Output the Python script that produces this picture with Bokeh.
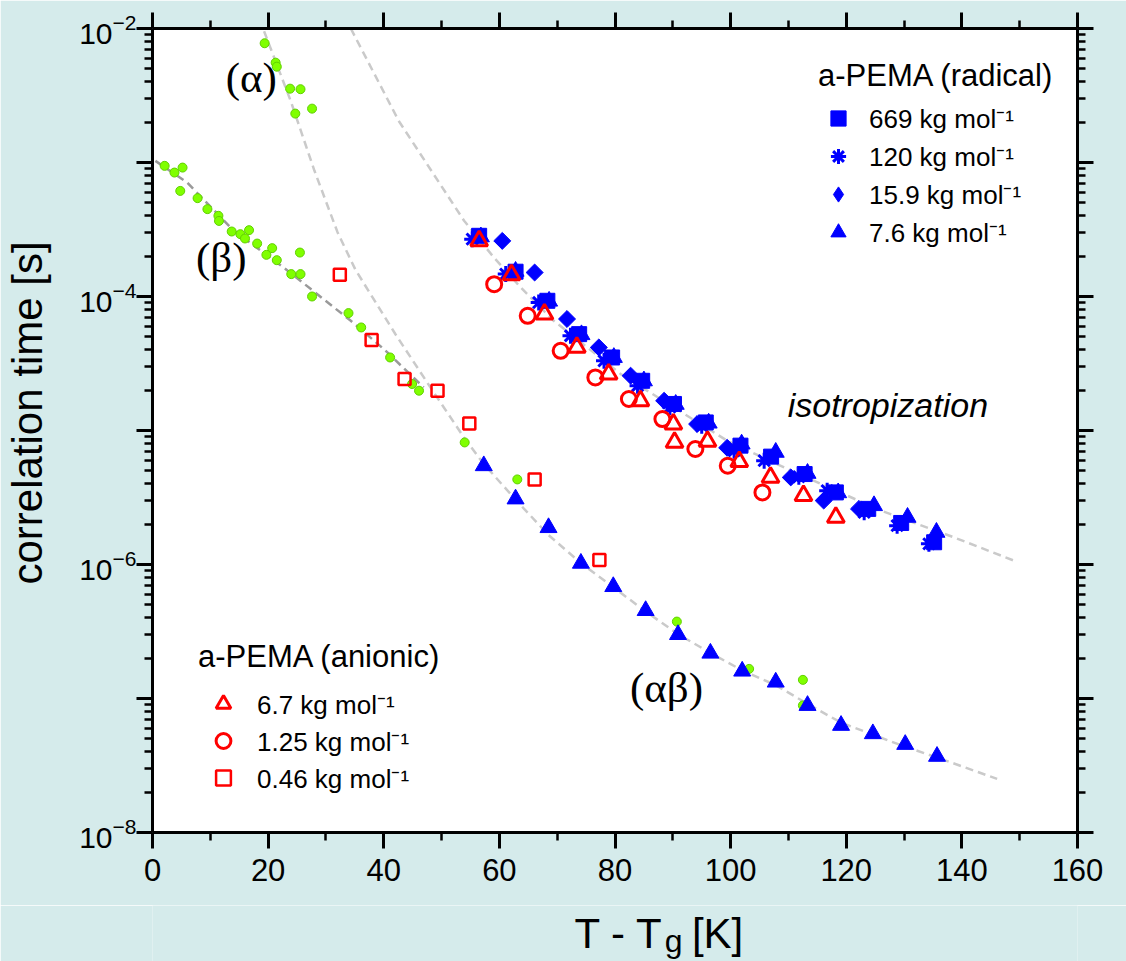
import math
from bokeh.plotting import figure
from bokeh.layouts import column
from bokeh.core.properties import value
from bokeh.models import (Range1d, FixedTicker, LinearAxis, LogAxis, Label, LogTickFormatter,
                          Legend, LegendItem, CustomJSTickFormatter)
from bokeh.embed import file_html
from bokeh.resources import INLINE

# ---------------- data ----------------
# x : T - Tg [K]; values given as log10(correlation time / s)
# a-PEMA (radical)
x_669 = [56.5, 62.8, 68.3, 73.8, 79.5, 84.7, 90.2, 95.7, 101.7, 107.0, 112.8, 118.2, 123.8, 129.5, 135.2]
lt_669 = [-3.547, -3.815, -4.032, -4.281, -4.455, -4.629, -4.802, -4.940, -5.113, -5.195, -5.325, -5.462, -5.585, -5.690, -5.834]

x_120 = [55.3, 61.1, 66.8, 72.3, 78.1, 83.9, 89.5, 95.0, 100.6, 105.8, 111.8, 116.7, 123.1, 128.8, 134.3]
lt_120 = [-3.572, -3.833, -4.045, -4.293, -4.480, -4.666, -4.825, -4.965, -5.151, -5.225, -5.345, -5.449, -5.611, -5.710, -5.846]

x_159 = [60.5, 66.1, 71.7, 77.2, 82.7, 88.5, 94.2, 99.4, 110.4, 116.1, 122.2]
lt_159 = [-3.585, -3.821, -4.168, -4.380, -4.591, -4.778, -4.952, -5.129, -5.350, -5.523, -5.585]

x_76_iso = [56.8, 62.8, 68.6, 74.2, 79.8, 85.0, 90.5, 96.2, 101.9, 107.8, 113.3, 118.6, 124.8, 130.6, 135.6]
lt_76_iso = [-3.555, -3.812, -4.035, -4.285, -4.455, -4.630, -4.805, -4.945, -5.101, -5.163, -5.320, -5.465, -5.561, -5.648, -5.760]

x_76_ab = [57.3, 62.8, 68.5, 74.1, 79.7, 85.3, 90.9, 96.5, 102.0, 107.8, 113.3, 119.1, 124.6, 130.2, 135.7]
lt_76_ab = [-5.263, -5.511, -5.725, -5.991, -6.165, -6.344, -6.523, -6.662, -6.796, -6.878, -7.052, -7.201, -7.263, -7.343, -7.432]

# a-PEMA (anionic)
x_67 = [56.5, 62.1, 67.8, 73.4, 78.9, 84.4, 90.1, 90.3, 96.0, 101.5, 106.9, 112.6, 118.2]
lt_67 = [-3.585, -3.838, -4.131, -4.380, -4.579, -4.778, -4.952, -5.089, -5.080, -5.232, -5.350, -5.486, -5.648]

x_125 = [59.1, 64.9, 70.6, 76.6, 82.4, 88.2, 93.9, 99.5, 105.5]
lt_125 = [-3.908, -4.144, -4.405, -4.604, -4.765, -4.915, -5.138, -5.263, -5.462]

x_046 = [32.4, 37.9, 43.6, 49.3, 54.8, 66.1, 77.3]
lt_046 = [-3.838, -4.325, -4.616, -4.703, -4.947, -5.365, -5.966]

# reference relaxation data (green)
x_ref = [19.4, 21.3, 21.5, 23.8, 25.6, 24.7, 27.6,
         2.1, 3.8, 5.2, 4.8, 7.8, 9.5, 11.4, 11.5, 13.7, 15.2, 16.7, 16.0, 18.1, 20.7,
         19.7, 21.5, 25.5, 24.0, 25.6, 27.6, 33.9, 36.1, 41.1, 44.9, 46.1, 54.0, 63.1,
         90.7, 103.2, 112.5, 112.5]
lt_ref = [-2.110, -2.255, -2.285, -2.449, -2.453, -2.635, -2.598,
          -3.025, -3.075, -3.038, -3.212, -3.266, -3.348, -3.398, -3.436, -3.515, -3.535, -3.505, -3.567, -3.605, -3.639,
          -3.689, -3.729, -3.672, -3.833, -3.833, -4.000, -4.124, -4.231, -4.455, -4.653, -4.703, -5.089, -5.365,
          -6.426, -6.779, -6.861, -7.052]

# dashed guide curves
x_fit_iso = [34.3, 42.6, 53.9, 59.05, 63.7, 69.4, 81.0, 90.2, 99.4, 109.8, 126.0, 138.6, 149.0]
lt_fit_iso = [-2.0, -2.69, -3.435, -3.709, -3.933, -4.181, -4.579, -4.828, -5.076, -5.287, -5.598, -5.797, -5.971]

x_fit_a = [19.3, 23.9, 28.0, 32.0, 35.1, 42.0, 48.1, 54.0, 57.3, 63.1, 68.5, 74.1, 79.7, 85.3, 90.9,
           96.5, 102.0, 107.8, 113.3, 119.1, 124.6, 130.2, 135.7, 146.1]
lt_fit_a = [-2.02, -2.54, -3.06, -3.52, -3.80, -4.28, -4.68, -5.06, -5.25, -5.53, -5.78, -5.99, -6.17, -6.35, -6.52,
            -6.66, -6.79, -6.90, -7.04, -7.18, -7.27, -7.36, -7.44, -7.60]

x_fit_b = [0.5, 6.0, 14.07, 22.7, 31.4, 34.3, 40.0, 46.9]
lt_fit_b = [-2.988, -3.150, -3.510, -3.784, -4.082, -4.181, -4.392, -4.678]

x_ticks = [0, 20, 40, 60, 80, 100, 120, 140, 160]
x_minor = [10, 30, 50, 70, 90, 110, 130, 150]
y_decades = [-8, -7, -6, -5, -4, -3, -2]
y_unlabelled = [-7, -5, -3]


def tau(logs):
    return [10.0 ** v for v in logs]


FONT = "Liberation Sans"
SERIF = "Liberation Serif"
BLUE = "#0000ff"
RED = "#ff0000"
BG = "#d5ebeb"

# geometry
W = 1126
F_LEFT, F_TOP, F_W, F_H = 152, 28, 925, 804
F_RIGHT_BORDER = W - F_LEFT - F_W
MAIN_H = 905
TITLE_H = 961 - MAIN_H

x_range = Range1d(0, 160)

p = figure(frame_width=F_W, frame_height=F_H, title=None,
           x_range=x_range, y_range=Range1d(1e-8, 1e-2),
           y_axis_type="log", output_backend="svg", toolbar_location=None,
           min_border_left=F_LEFT, min_border_right=F_RIGHT_BORDER,
           min_border_top=F_TOP, min_border_bottom=MAIN_H - F_TOP - F_H)
p.background_fill_color = "white"
p.border_fill_color = BG
p.outline_line_color = None
p.grid.visible = False

y_major = [10.0 ** e for e in y_decades]
y_minor = [m * 10.0 ** e for e in y_decades[:-1] for m in range(2, 10)]


def style_axis(ax):
    ax.axis_line_width = 3
    ax.axis_line_color = "black"
    ax.major_tick_line_width = 3
    ax.minor_tick_line_width = 2.5
    ax.major_tick_line_color = "black"
    ax.minor_tick_line_color = "black"
    ax.major_tick_in = 0
    ax.major_tick_out = 16
    ax.minor_tick_in = 0
    ax.minor_tick_out = 8


def hide_labels(ax):
    ax.formatter = CustomJSTickFormatter(code="return ''")
    ax.major_label_text_font_size = "0px"
    ax.major_label_standoff = 0


xb = p.xaxis[0]
xb.ticker = FixedTicker(ticks=x_ticks, minor_ticks=x_minor)
style_axis(xb)
xb.major_label_text_font = FONT
xb.major_label_text_font_size = "31px"
xb.major_label_text_color = "black"
xb.major_label_standoff = 10

yl = p.yaxis[0]
yl.ticker = FixedTicker(ticks=y_major, minor_ticks=y_minor)
yl.formatter = LogTickFormatter()
style_axis(yl)
yl.major_label_text_font = FONT
yl.major_label_text_font_size = "30px"
yl.major_label_text_color = "black"
yl.major_label_standoff = 0
yl.major_label_overrides = {10.0 ** e: "" for e in y_unlabelled}
yl.axis_label = "\u00a0\u00a0\u00a0correlation time [s]"
yl.axis_label_text_font = FONT
yl.axis_label_text_font_size = "42px"
yl.axis_label_text_font_style = "normal"
yl.axis_label_text_color = "black"
yl.axis_label_standoff = 25

xt = LinearAxis(ticker=FixedTicker(ticks=x_ticks, minor_ticks=x_minor))
style_axis(xt)
hide_labels(xt)
p.add_layout(xt, "above")

yr = LogAxis(ticker=FixedTicker(ticks=y_major, minor_ticks=y_minor))
style_axis(yr)
hide_labels(yr)
p.add_layout(yr, "right")

# guide curves
p.line(x_fit_b, tau(lt_fit_b), line_color="#9a9a9a", line_width=2.5, line_dash="8 5")
p.line(x_fit_a, tau(lt_fit_a), line_color="#cacaca", line_width=2.5, line_dash="8 5")
p.line(x_fit_iso, tau(lt_fit_iso), line_color="#cacaca", line_width=2.5, line_dash="8 5")

# green reference points
p.scatter(x_ref, tau(lt_ref), marker="circle", size=9, fill_color="#80ff00", line_color="#60d000", line_width=1)

# radical series
r669 = p.scatter(x_669, tau(lt_669), marker="square", size=15, fill_color=BLUE, line_color=BLUE)
r120 = p.scatter(x_120, tau(lt_120), marker="asterisk", size=16, line_color=BLUE, line_width=3)
# small diamonds hidden under the rotated squares: they give the legend its diamond swatch
r159 = p.scatter(x_159, tau(lt_159), marker="diamond", size=11, fill_color=BLUE, line_color=BLUE)
p.scatter(x_159, tau(lt_159), marker="square", angle=math.pi / 4, size=12,
          fill_color=BLUE, line_color=BLUE)
r76 = p.scatter(x_76_iso, tau(lt_76_iso), marker="triangle", size=17, fill_color=BLUE, line_color=BLUE)
p.scatter(x_76_ab, tau(lt_76_ab), marker="triangle", size=17, fill_color=BLUE, line_color=BLUE)

# anionic series
a67 = p.scatter(x_67, tau(lt_67), marker="triangle", size=17, fill_color=None, line_color=RED, line_width=3)
a125 = p.scatter(x_125, tau(lt_125), marker="circle", size=15, fill_color=None, line_color=RED, line_width=3)
a046 = p.scatter(x_046, tau(lt_046), marker="square", size=12, fill_color=None, line_color=RED, line_width=2.5)

legend_common = dict(title_text_font=FONT, title_text_font_style="normal", title_text_color="black",
                     label_text_font=FONT, label_text_color="black",
                     padding=0, margin=0, border_line_color=None, background_fill_alpha=0,
                     label_text_baseline="middle", spacing=0)

leg_rad = Legend(items=[LegendItem(label="669 kg mol⁻¹", renderers=[r669]),
                        LegendItem(label="120 kg mol⁻¹", renderers=[r120]),
                        LegendItem(label="15.9 kg mol⁻¹", renderers=[r159]),
                        LegendItem(label="7.6 kg mol⁻¹", renderers=[r76])],
                 title="a-PEMA (radical)", title_text_font_size="31px", title_standoff=5,
                 label_text_font_size="26px", glyph_width=40, glyph_height=38, label_height=38,
                 label_standoff=11, location=(666, 581), **legend_common)
p.add_layout(leg_rad)

leg_an = Legend(items=[LegendItem(label="6.7 kg mol⁻¹", renderers=[a67]),
                       LegendItem(label="1.25 kg mol⁻¹", renderers=[a125]),
                       LegendItem(label="0.46 kg mol⁻¹", renderers=[a046])],
                title="a-PEMA (anionic)", title_text_font_size="31px", title_standoff=10,
                label_text_font_size="26px", glyph_width=50, glyph_height=37, label_height=37,
                label_standoff=9, location=(46, 36), **legend_common)
p.add_layout(leg_an)

# annotations in the plot
p.add_layout(Label(x=17.1, y=10.0 ** -2.369, text="(α)", text_align="center", text_baseline="middle",
                   text_font=SERIF, text_font_size="43px", text_color="black"))
p.add_layout(Label(x=11.9, y=10.0 ** -3.711, text="(β)", text_align="center", text_baseline="middle",
                   text_font=SERIF, text_font_size="43px", text_color="black"))
p.add_layout(Label(x=88.9, y=10.0 ** -6.918, text="(αβ)", text_align="center", text_baseline="middle",
                   text_font=SERIF, text_font_size="43px", text_color="black"))
p.add_layout(Label(x=127.2, y=10.0 ** -4.811, text="isotropization", text_align="center", text_baseline="middle",
                   text_font=FONT, text_font_style="italic", text_font_size="34px", text_color="black"))

# x-axis title strip (T - Tg [K]) with a real subscript; shares the x scale of the plot
pt = figure(width=W, height=TITLE_H, title=None, x_range=x_range, y_range=Range1d(TITLE_H, 0),
            x_axis_location=None, y_axis_location=None, toolbar_location=None,
            output_backend="svg", min_border_left=F_LEFT, min_border_right=F_RIGHT_BORDER,
            min_border_top=0, min_border_bottom=0)
pt.background_fill_color = BG
pt.border_fill_color = BG
pt.outline_line_color = None
pt.grid.visible = False
pt.text(x=[73.0], y=[28], text=["T - T"], text_font=value(FONT), text_font_size="42px",
        text_align="left", text_baseline="alphabetic", text_color="black")
pt.text(x=[88.6], y=[35], text=["g"], text_font=value(FONT), text_font_size="32px",
        text_align="left", text_baseline="alphabetic", text_color="black")
pt.text(x=[93.3], y=[28], text=["[K]"], text_font=value(FONT), text_font_size="42px",
        text_align="left", text_baseline="alphabetic", text_color="black")

layout = column(p, pt, spacing=0)

open("out.html", "w").write(file_html(layout, INLINE))
